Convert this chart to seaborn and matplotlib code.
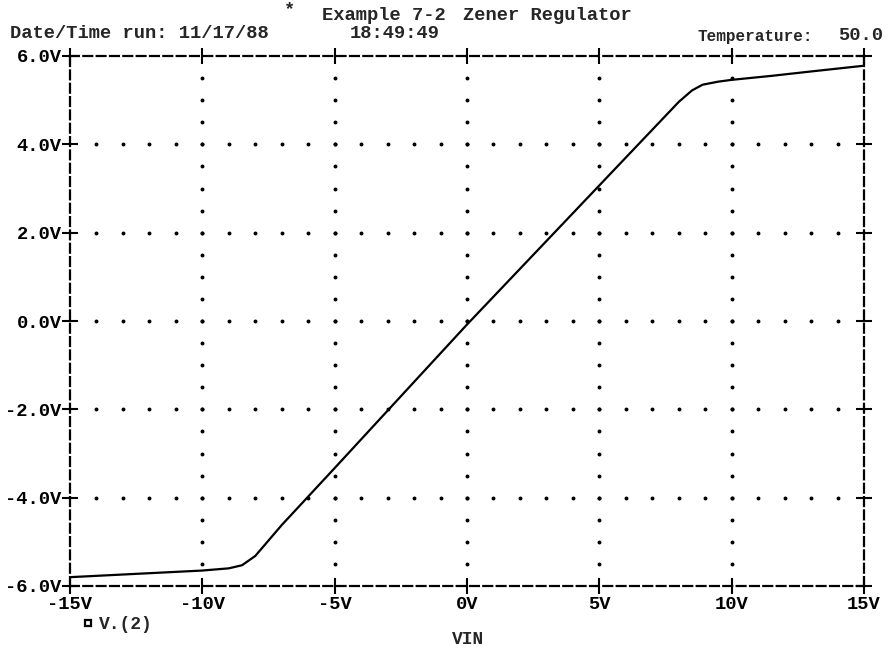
import numpy as np
import pandas as pd
import matplotlib
matplotlib.use("Agg")
import matplotlib.pyplot as plt
from matplotlib.lines import Line2D
import seaborn as sns

# ---- data ----
vin = [-15, -13, -11, -10, -9, -8.5, -8.0, -7.5, -7.0, -5, 0, 5, 8.0, 8.5, 8.9, 9.5, 10, 11.5, 13, 15]
v2 = [-5.80, -5.74, -5.68, -5.65, -5.60, -5.53, -5.32, -4.97, -4.62, -3.33, -0.08, 3.07,
      4.96, 5.22, 5.35, 5.42, 5.46, 5.55, 5.65, 5.78]
x_ticks = [-15, -10, -5, 0, 5, 10, 15]
x_tick_labels = ["-15V", "-10V", "-5V", "0V", "5V", "10V", "15V"]
y_ticks = [-6, -4, -2, 0, 2, 4, 6]
y_tick_labels = ["-6.0V", "-4.0V", "-2.0V", "0.0V", "2.0V", "4.0V", "6.0V"]
series_label = "V.(2)"
x_label = "VIN"

sns.set_theme(style="white")
FONT = "Liberation Mono"
plt.rcParams["font.family"] = [FONT, "DejaVu Sans Mono"]

fig = plt.figure(figsize=(8.89, 6.49), dpi=100)
ax = fig.add_axes([70 / 889, 1 - 586 / 649, (864 - 70) / 889, (586 - 56) / 649])

df = pd.DataFrame({"VIN": vin, "V2": v2})
sns.lineplot(data=df, x="VIN", y="V2", ax=ax, color="black", linewidth=1.6, zorder=3)

# dotted grid
gx = [t for t in x_ticks[1:-1]]
gy = [t for t in y_ticks[1:-1]]
for yy in gy:
    xs = np.arange(-14, 15, 1.0)
    ax.plot(xs, np.full_like(xs, yy), ls="none", marker="o", ms=1.8, color="black", zorder=2)
for xx in gx:
    ys = np.arange(-5.5, 6.0, 0.5)
    ax.plot(np.full_like(ys, xx), ys, ls="none", marker="o", ms=1.8, color="black", zorder=2)

ax.set_xlim(-15, 15)
ax.set_ylim(-6, 6)
ax.set_xticks(x_ticks)
ax.set_xticklabels(x_tick_labels)
ax.set_yticks(y_ticks)
ax.set_yticklabels(y_tick_labels)
ax.tick_params(axis="both", direction="inout", length=12, width=1.5, color="black",
               labelsize=13.5, labelcolor="black", top=True, right=True, bottom=True, left=True)
ax.tick_params(axis="x", pad=1)
ax.tick_params(axis="y", pad=0)
for lab in ax.get_xticklabels() + ax.get_yticklabels():
    lab.set_fontweight("bold")
ax.set_xlabel("")
ax.set_ylabel("")
for sp in ax.spines.values():
    sp.set_linestyle((0, (4, 2)))
    sp.set_linewidth(1.6)
    sp.set_color("black")
    sp.set_visible(True)

# legend below the axis
handle = Line2D([], [], ls="none", marker="s", ms=5, mfc="white", mec="black", mew=1.6)
leg = ax.legend([handle], [series_label], loc="upper left", bbox_to_anchor=(74 / 889, 1 - 607 / 649),
                bbox_transform=fig.transFigure, frameon=False, handlelength=0.6, handletextpad=0.3,
                borderpad=0, prop={"weight": "bold", "size": 13})

# x axis label
fig.text(468 / 889, 1 - 640 / 649, x_label, ha="center", va="center", fontsize=13,
         fontweight="bold")

# header texts
kw = dict(fontsize=13.5, fontweight="bold", va="center", ha="left")
fig.text(284 / 889, 1 - 10 / 649, "*", **kw)
fig.text(322 / 889, 1 - 15 / 649, "Example 7-2", **kw)
fig.text(463 / 889, 1 - 15 / 649, "Zener Regulator", **kw)
fig.text(10 / 889, 1 - 33 / 649, "Date/Time run: 11/17/88", **kw)
fig.text(350 / 889, 1 - 33 / 649, "18:49:49", **kw)
fig.text(698 / 889, 1 - 36 / 649, "Temperature:", fontsize=11.5, fontweight="bold",
         va="center", ha="left")
fig.text(838 / 889, 1 - 36 / 649, "50.0", **kw)

fig.savefig("out.png", dpi=100, facecolor="white")
